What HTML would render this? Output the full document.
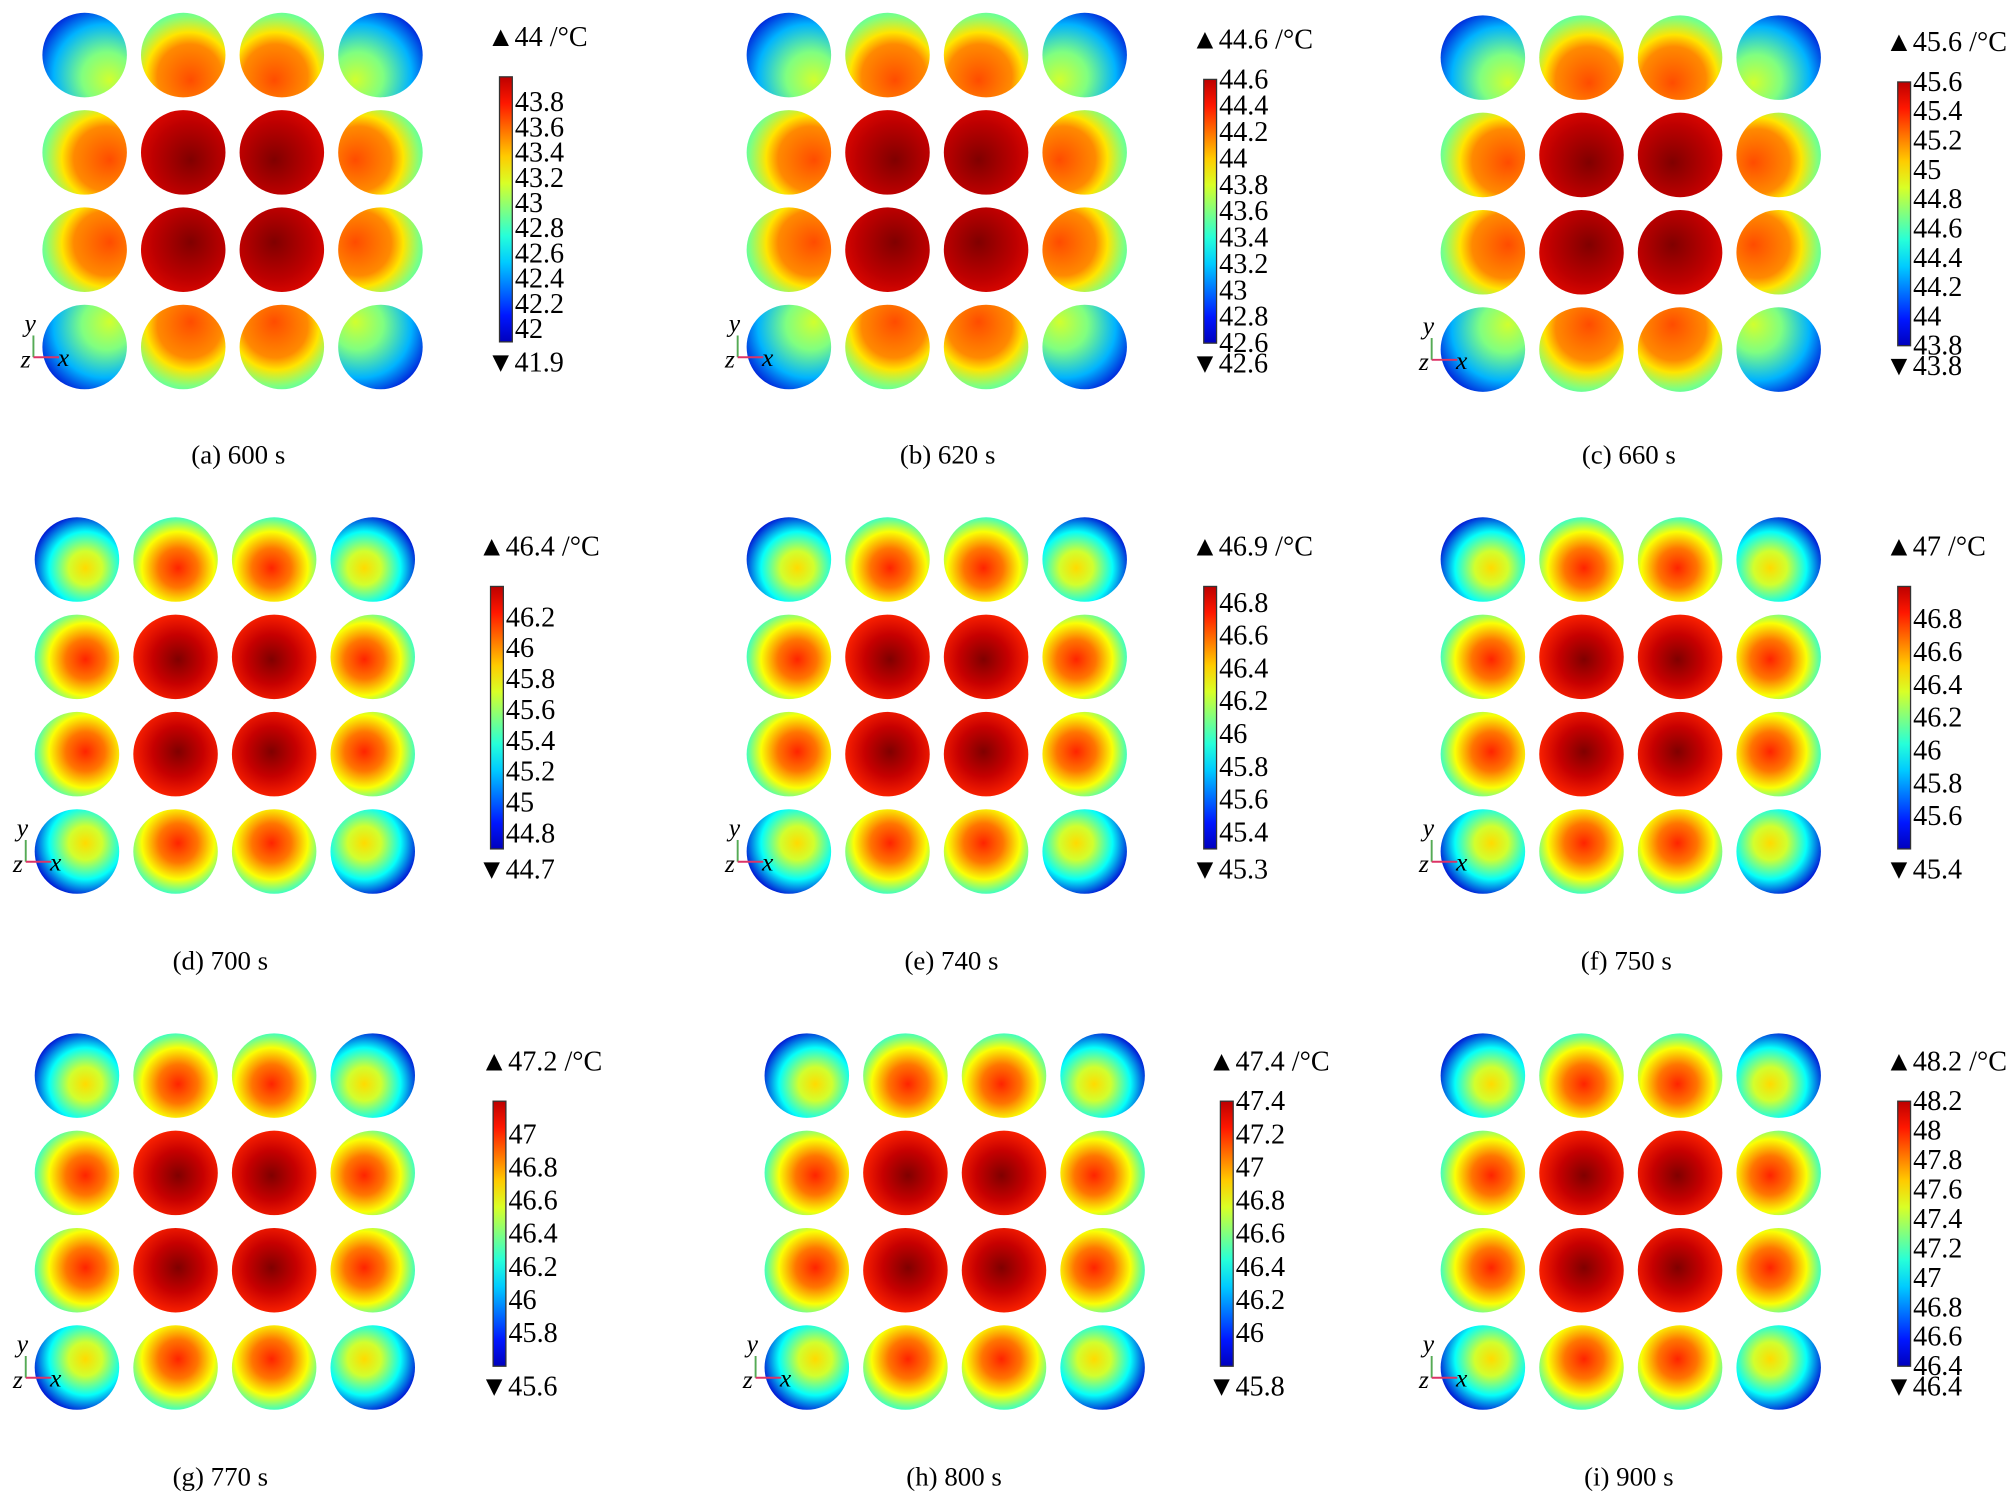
<!DOCTYPE html>
<html><head><meta charset="utf-8"><style>
html,body{margin:0;padding:0;background:#fff;}
svg{display:block;font-family:"Liberation Serif","Times New Roman",serif;}
text{font-family:"Liberation Serif","Times New Roman",serif;fill:#000;}
</style></head><body>
<svg id="fig" width="2008" height="1493" viewBox="0 0 1568 1166" font-family="Liberation Serif, serif" xmlns="http://www.w3.org/2000/svg">
<defs id="defs"></defs>
</svg>
<script>
// ---- data ----
const panelLabels = ["(a) 600 s","(b) 620 s","(c) 660 s","(d) 700 s","(e) 740 s","(f) 750 s","(g) 770 s","(h) 800 s","(i) 900 s"];
const maxValues = [44, 44.6, 45.6, 46.4, 46.9, 47, 47.2, 47.4, 48.2];
const minValues = [41.9, 42.6, 43.8, 44.7, 45.3, 45.4, 45.6, 45.8, 46.4];
const maxLabels = ["44","44.6","45.6","46.4","46.9","47","47.2","47.4","48.2"];
const minLabels = ["41.9","42.6","43.8","44.7","45.3","45.4","45.6","45.8","46.4"];
const tickLabels = [
 ["42","42.2","42.4","42.6","42.8","43","43.2","43.4","43.6","43.8"],
 ["42.6","42.8","43","43.2","43.4","43.6","43.8","44","44.2","44.4","44.6"],
 ["43.8","44","44.2","44.4","44.6","44.8","45","45.2","45.4","45.6"],
 ["44.8","45","45.2","45.4","45.6","45.8","46","46.2"],
 ["45.4","45.6","45.8","46","46.2","46.4","46.6","46.8"],
 ["45.6","45.8","46","46.2","46.4","46.6","46.8"],
 ["45.8","46","46.2","46.4","46.6","46.8","47"],
 ["46","46.2","46.4","46.6","46.8","47","47.2","47.4"],
 ["46.4","46.6","46.8","47","47.2","47.4","47.6","47.8","48","48.2"]
];
// layout (display coords)
const circleX0 = [66,616,1158, 60,616,1158, 60,630,1158];
const circleY0 = [43,43,45, 437,437,437, 840,840,840];
const barX = [390,940,1482, 383,940,1482, 385,953,1482];
const barTop = [60,62,64, 458,458,458, 860,860,860];
const barBot = [267,268,270, 663,663,663, 1067,1067,1067];
const capY = [355,355,355, 750,750,750, 1153,1153,1153];
const capX = [186,740,1272, 172,743,1270, 172,745,1272];
const early = [1,1,1,0,0,0,0,0,0];

const NS="http://www.w3.org/2000/svg";
const svg=document.getElementById('fig');
const defs=document.getElementById('defs');
function mk(tag,attrs,parent){const e=document.createElementNS(NS,tag);for(const k in attrs)e.setAttribute(k,attrs[k]);(parent||svg).appendChild(e);return e;}
function jet(v){v=Math.max(0,Math.min(1,v));
 const r=Math.max(0,Math.min(1,1.5-Math.abs(4*v-3)));
 const g=Math.max(0,Math.min(1,1.5-Math.abs(4*v-2)));
 const b=Math.max(0,Math.min(1,1.5-Math.abs(4*v-1)));
 return `rgb(${Math.round(r*255)},${Math.round(g*255)},${Math.round(b*255)})`;}
function addGrad(id,stops,cx,cy,fx,fy,r){
 const g=mk('radialGradient',{id:id,cx:cx,cy:cy,fx:fx,fy:fy,r:r},defs);
 stops.forEach(s=>mk('stop',{offset:s[0],'stop-color':jet(s[1])},g));}
function txt(attrs,parent,content,name){
 const t=mk('text',Object.assign({'font-family':'Liberation Serif, serif'},attrs),parent);
 t.textContent=content;return t;}
const D=77, R=33;
for(let p=0;p<9;p++){
 const grp=mk('g',{});
 
 
 for(let i=0;i<4;i++)for(let j=0;j<4;j++){
  const edgeI=(i==0||i==3),edgeJ=(j==0||j==3);
  const type=(edgeI&&edgeJ)?'corner':(edgeI||edgeJ)?'edge':'center';
  const dx=(j<1.5?1:-1)*(edgeJ?1:0.3), dy=(i<1.5?1:-1)*(edgeI?1:0.3);
  let stops,cx,cy,fx,fy,r;
  if(early[p]){
   if(type=='center'){stops=[[0,1.0],[0.5,0.94],[1,0.86]];}
   else if(type=='edge'){stops=[[0,0.8],[0.45,0.74],[0.6,0.65],[0.8,0.5],[1,0.4]];}
   else{stops=[[0,0.58],[0.35,0.5],[0.7,0.3],[1,0.08]];}
   cx=0.5+dx*0.2;cy=0.5+dy*0.2;fx=0.5+dx*0.3;fy=0.5+dy*0.3;r=0.85;
  } else {
   if(type=='center'){stops=[[0,1.0],[0.45,0.93],[0.85,0.84],[1,0.78]];}
   else if(type=='edge'){stops=[[0,0.84],[0.35,0.76],[0.65,0.62],[0.85,0.48],[1,0.38]];}
   else{stops=[[0,0.66],[0.3,0.58],[0.65,0.38],[1,0.08]];}
   cx=0.5+dx*0.1;cy=0.5+dy*0.1;fx=0.5+dx*0.1;fy=0.5+dy*0.1;r=0.66;
  }
  const id='g'+p+'_'+i+'_'+j;
  addGrad(id,stops,cx,cy,fx,fy,r);
  const c=mk('circle',{cx:circleX0[p]+j*D,cy:circleY0[p]+i*(D-1),r:R,fill:`url(#${id})`},grp);
  
  
 }
 // axis triad
 const ax=circleX0[p]-50, ay=circleY0[p]+3*(D-1)+8;
 mk('line',{x1:ax+10,y1:ay,x2:ax+10,y2:ay-17,stroke:'#5a5','stroke-width':1.5},grp);
 mk('line',{x1:ax+10,y1:ay,x2:ax+30,y2:ay,stroke:'#d36','stroke-width':1.5},grp);
 const ty=txt({x:ax+3,y:ay-20,'font-size':20,'font-style':'italic'},grp,'y');
 
 
 const tz=txt({x:ax,y:ay+8,'font-size':20,'font-style':'italic'},grp,'z');
 
 
 const tx=txt({x:ax+29,y:ay+7,'font-size':20,'font-style':'italic'},grp,'x');
 
 
 // colorbar
 const cbid='cb'+p;
 const lg=mk('linearGradient',{id:cbid,x1:0,y1:1,x2:0,y2:0},defs);
 for(let k=0;k<=10;k++)mk('stop',{offset:k/10,'stop-color':jet(0.06+0.88*k/10)},lg);
 const bx=barX[p],bt=barTop[p],bb=barBot[p];
 const bar=mk('rect',{x:bx,y:bt,width:10,height:bb-bt,fill:`url(#${cbid})`,stroke:'#333','stroke-width':1},grp);
 
 
 const yScale=v=>bb-(v-minValues[p])/(maxValues[p]-minValues[p])*(bb-bt);
 tickLabels[p].forEach(l=>{
  const y=yScale(parseFloat(l));
  const t=txt({x:bx+12,y:y+7,'font-size':22},grp,l);
  
  
 });
 const mx=txt({x:bx-10,y:bt-24,'font-size':22},grp,'▲'+maxLabels[p]+' /°C');
 
 
 const mn=txt({x:bx-10,y:bb+23,'font-size':22},grp,'▼'+minLabels[p]);
 
 
 const cap=txt({x:capX[p],y:capY[p]+7,'font-size':21,'text-anchor':'middle'},grp,panelLabels[p]);
 
 
}
</script>
</body></html>
